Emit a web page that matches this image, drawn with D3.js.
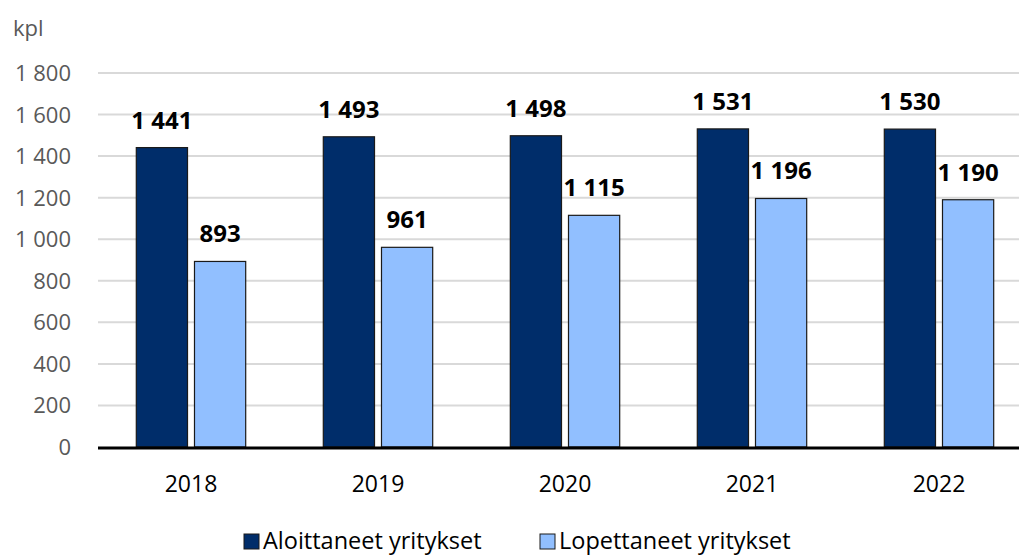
<!DOCTYPE html>
<html>
<head>
<meta charset="utf-8">
<script src="https://cdn.jsdelivr.net/npm/d3@7"></script>
<style>
  body { margin: 0; background: #fff; }
  text { font-family: "Open Sans", sans-serif; }
</style>
</head>
<body>
<div id="chart"></div>
<script>
var years = ["2018", "2019", "2020", "2021", "2022"];
var seriesNames = ["Aloittaneet yritykset", "Lopettaneet yritykset"];
var aloittaneet = [1441, 1493, 1498, 1531, 1530];
var lopettaneet = [893, 961, 1115, 1196, 1190];
var yTicks = [0, 200, 400, 600, 800, 1000, 1200, 1400, 1600, 1800];
var colors = ["#002d6a", "#91bfff"];

var width = 1019, height = 557;

var fmt = function(v) {
	var s = String(v);
	return s.length > 3 ? s.slice(0, s.length - 3) + " " + s.slice(-3) : s;
};

var svg = d3.select('#chart').append('svg')
	.attr('width', width)
	.attr('height', height);

var x0 = d3.scaleBand()
	.domain(years)
	.range([97.5, 1032.5])
	.paddingInner(0.415)
	.paddingOuter(0.2075);

var x1 = d3.scaleBand()
	.domain([0, 1])
	.range([0, x0.bandwidth()])
	.paddingInner(0.12);

var y = d3.scaleLinear()
	.domain([0, 1800])
	.range([447, 73]);

// gridlines
svg.append('g').selectAll('line')
	.data(yTicks.slice(1))
	.enter().append('line')
	.attr('x1', 98).attr('x2', width)
	.attr('y1', function(d) { return y(d); })
	.attr('y2', function(d) { return y(d); })
	.attr('stroke', '#d9d9d9')
	.attr('stroke-width', 2);

// y tick labels
svg.append('g').selectAll('text')
	.data(yTicks)
	.enter().append('text')
	.attr('x', 71)
	.attr('y', function(d) { return y(d) + 8; })
	.attr('text-anchor', 'end')
	.attr('fill', '#595959')
	.style('font-size', '22px')
	.text(fmt);

svg.append('text')
	.attr('x', 13).attr('y', 36)
	.attr('fill', '#595959')
	.style('font-size', '22px')
	.text('kpl');

var rows = years.map(function(yr, i) {
	return { year: yr, values: [aloittaneet[i], lopettaneet[i]] };
});

var groups = svg.append('g').selectAll('g')
	.data(rows)
	.enter().append('g')
	.attr('transform', function(d) { return 'translate(' + x0(d.year) + ',0)'; });

groups.selectAll('rect')
	.data(function(d) { return d.values; })
	.enter().append('rect')
	.attr('x', function(d, i) { return x1(i); })
	.attr('y', function(d) { return y(d); })
	.attr('width', x1.bandwidth())
	.attr('height', function(d) { return y(0) - y(d); })
	.attr('fill', function(d, i) { return colors[i]; })
	.attr('stroke', '#1a1a1a')
	.attr('stroke-width', 1.2);

groups.selectAll('text')
	.data(function(d) { return d.values; })
	.enter().append('text')
	.attr('x', function(d, i) { return x1(i) + x1.bandwidth() / 2; })
	.attr('y', function(d) { return y(d) - 19; })
	.attr('text-anchor', 'middle')
	.style('font-size', '24px')
	.style('font-weight', 'bold')
	.attr('fill', '#000')
	.text(fmt);

// x axis line
svg.append('line')
	.attr('x1', 98).attr('x2', width)
	.attr('y1', y(0) + 1).attr('y2', y(0) + 1)
	.attr('stroke', '#000')
	.attr('stroke-width', 3);

svg.append('g').selectAll('text')
	.data(years)
	.enter().append('text')
	.attr('x', function(d) { return x0(d) + x0.bandwidth() / 2; })
	.attr('y', 492)
	.attr('text-anchor', 'middle')
	.attr('fill', '#000')
	.style('font-size', '23px')
	.text(function(d) { return d; });

// legend
var legendX = [244, 540];
var legend = svg.append('g').selectAll('g')
	.data(seriesNames)
	.enter().append('g')
	.attr('transform', function(d, i) { return 'translate(' + legendX[i] + ',534)'; });

legend.append('rect')
	.attr('width', 15).attr('height', 15)
	.attr('fill', function(d, i) { return colors[i]; })
	.attr('stroke', '#1a1a1a')
	.attr('stroke-width', 1);

legend.append('text')
	.attr('x', 19).attr('y', 15)
	.attr('fill', '#000')
	.style('font-size', '23.5px')
	.text(function(d) { return d; });
</script>
</body>
</html>
